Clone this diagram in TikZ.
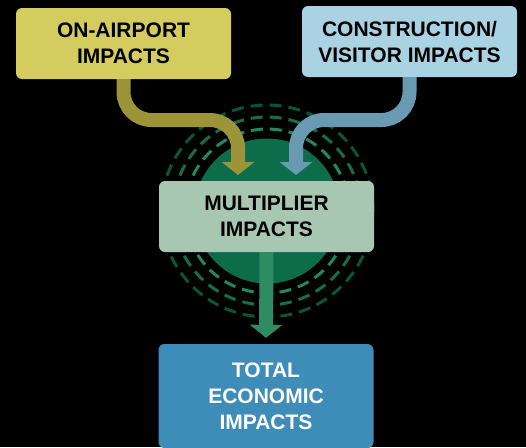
\documentclass[tikz,border=0pt]{standalone}
\usepackage{fontspec}
\setmainfont{Liberation Sans}
\usepackage{xcolor}
\usepackage{tikz}
\usetikzlibrary{arrows.meta}
\usetikzlibrary{positioning}

\definecolor{airyellow}{HTML}{D4CC5E}
\definecolor{conblue}{HTML}{A9D2E2}
\definecolor{multgreen}{HTML}{A8C7B3}
\definecolor{totalblue}{HTML}{3D8DB8}
\definecolor{arrolive}{HTML}{9C9538}
\definecolor{arrblue}{HTML}{6A9AB2}
\definecolor{arrgreen}{HTML}{2F8C62}
\definecolor{discgreen}{HTML}{0D6C49}
\definecolor{ringa}{HTML}{1E8A5E}
\definecolor{ringb}{HTML}{146E4A}
\definecolor{ringc}{HTML}{0C5437}

\begin{document}
\begin{tikzpicture}[
	x=1pt, y=-1pt,
	font=\bfseries\fontsize{21}{26}\selectfont
]
\tikzset{
    impbox/.style = {rectangle, rounded corners=6pt, align=center, inner sep=0pt, minimum width=215pt, minimum height=71pt},
    flow/.style = {line width=14pt, rounded corners=28pt, -{Triangle[width=32pt,length=13pt]}, shorten >=6pt},
    ring/.style = {line width=3pt, dash pattern=on 12pt off 7pt}
}
\clip (0,0) rectangle (526,447);
\fill[black] (0,0) rectangle (526,447);
\fill[discgreen] (267,211) circle (72.5pt);
\draw[ring,ringa] (267,211) circle (82pt);
\draw[ring,ringb] (267,211) circle (94pt);
\draw[ring,ringc] (267,211) circle (106pt);
\node[impbox,fill=airyellow] (onair) at (123.5,43.5) {ON-AIRPORT\\IMPACTS};
\node[impbox,fill=conblue] (conimp) at (409.5,41.5) {CONSTRUCTION/\\VISITOR IMPACTS};
\node[impbox,fill=multgreen] (mult) at (266.5,216.5) {MULTIPLIER\\IMPACTS};
\node[impbox,fill=totalblue,text=white,minimum height=104pt] (total) at (266,396) {TOTAL\\ECONOMIC\\IMPACTS};
\coordinate (bendL) at (238,120);
\coordinate (inL) at (238,181);
\coordinate (bendR) at (296,120);
\coordinate (inR) at (296,181);
\draw[flow,arrolive] (onair.south) |- (bendL) -- (inL);
\draw[flow,arrblue] (conimp.south) |- (bendR) -- (inR);
\draw[flow,arrgreen] (mult.south) -- (total.north);
\end{tikzpicture}
\end{document}
